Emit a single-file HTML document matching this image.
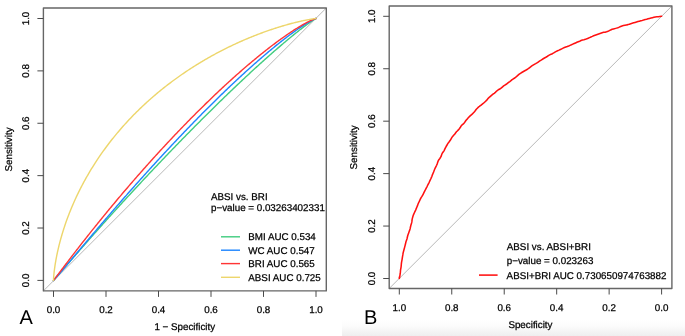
<!DOCTYPE html>
<html><head><meta charset="utf-8"><title>ROC curves</title>
<style>
html,body{margin:0;padding:0;background:#fff;}
body{width:685px;height:336px;overflow:hidden;font-family:"Liberation Sans",sans-serif;}
svg{display:block;text-rendering:geometricPrecision;will-change:transform;font-family:"Liberation Sans",sans-serif;}
svg text{font-family:"Liberation Sans",sans-serif;}
</style></head><body>
<svg width="685" height="336" viewBox="0 0 685 336">
<defs><linearGradient id="bg" x1="0" y1="0" x2="0" y2="1"><stop offset="0" stop-color="#ffffff"/><stop offset="0.4" stop-color="#fcfcfc"/><stop offset="1" stop-color="#eeeeee"/></linearGradient></defs>
<rect x="0" y="0" width="685" height="336" fill="#ffffff"/>
<rect x="342" y="319" width="343" height="17" fill="url(#bg)"/>
<g fill="none" stroke-linecap="round" stroke-linejoin="round">
<line x1="43.40" y1="290.90" x2="326.30" y2="8.00" stroke="#b8b8b8" stroke-width="1"/>
<path d="M53.50,280.40 L53.91,279.95 L54.31,279.48 L54.73,279.00 L55.14,278.53 L55.55,278.05 L55.98,277.56 L56.41,277.06 L56.82,276.59 L57.27,276.06 L57.67,275.59 L58.11,275.09 L58.58,274.53 L59.10,273.93 L59.51,273.45 L59.96,272.94 L60.42,272.39 L60.92,271.82 L61.45,271.21 L62.00,270.56 L62.59,269.88 L63.00,269.41 L63.42,268.91 L63.86,268.40 L64.32,267.88 L64.79,267.33 L65.28,266.76 L65.79,266.18 L66.31,265.57 L66.85,264.95 L67.41,264.30 L67.98,263.64 L68.58,262.95 L69.19,262.24 L69.83,261.51 L70.48,260.76 L71.16,259.98 L71.85,259.18 L72.57,258.36 L73.30,257.51 L74.06,256.64 L74.84,255.75 L75.24,255.29 L75.64,254.83 L76.05,254.36 L76.47,253.89 L76.89,253.41 L77.31,252.92 L77.75,252.42 L78.18,251.92 L78.63,251.42 L79.08,250.90 L79.53,250.38 L79.99,249.86 L80.46,249.33 L80.93,248.79 L81.41,248.24 L81.90,247.69 L82.39,247.13 L82.89,246.56 L83.39,245.99 L83.90,245.41 L84.42,244.83 L84.94,244.24 L85.47,243.64 L86.00,243.03 L86.54,242.42 L87.09,241.80 L87.64,241.17 L88.20,240.54 L88.76,239.90 L89.34,239.26 L89.91,238.61 L90.50,237.95 L91.09,237.28 L91.69,236.61 L92.29,235.93 L92.90,235.24 L93.52,234.55 L94.14,233.85 L94.77,233.14 L95.40,232.43 L96.04,231.71 L96.69,230.98 L97.35,230.25 L98.01,229.51 L98.67,228.77 L99.35,228.01 L100.03,227.25 L100.71,226.49 L101.40,225.71 L102.10,224.94 L102.81,224.15 L103.52,223.36 L104.24,222.56 L104.96,221.76 L105.69,220.95 L106.43,220.13 L107.17,219.31 L107.92,218.48 L108.67,217.64 L109.43,216.80 L110.20,215.95 L110.97,215.10 L111.75,214.24 L112.54,213.37 L113.33,212.50 L114.12,211.62 L114.93,210.74 L115.73,209.85 L116.55,208.95 L117.37,208.05 L118.19,207.15 L119.03,206.24 L119.86,205.32 L120.71,204.40 L121.55,203.47 L122.41,202.54 L123.27,201.60 L124.13,200.66 L125.00,199.71 L125.88,198.76 L126.76,197.80 L127.64,196.84 L128.53,195.87 L129.43,194.90 L130.33,193.93 L131.24,192.95 L132.15,191.96 L133.06,190.97 L133.98,189.98 L134.91,188.98 L135.84,187.98 L136.77,186.98 L137.71,185.97 L138.65,184.95 L139.60,183.94 L140.55,182.92 L141.51,181.89 L142.47,180.87 L143.43,179.84 L144.40,178.81 L145.37,177.77 L146.34,176.73 L147.32,175.69 L148.30,174.64 L149.29,173.60 L150.28,172.55 L151.27,171.50 L152.27,170.44 L153.27,169.38 L154.27,168.33 L155.27,167.27 L156.28,166.20 L157.29,165.14 L158.31,164.07 L159.32,163.01 L160.34,161.94 L161.36,160.87 L162.38,159.80 L163.41,158.72 L164.44,157.65 L165.47,156.57 L166.50,155.50 L167.53,154.42 L168.57,153.35 L169.60,152.27 L170.64,151.19 L171.68,150.12 L172.72,149.04 L173.76,147.96 L174.81,146.89 L175.85,145.81 L176.90,144.73 L177.94,143.66 L178.99,142.58 L180.03,141.51 L181.08,140.43 L182.13,139.36 L183.18,138.29 L184.23,137.22 L185.27,136.15 L186.32,135.08 L187.37,134.01 L188.42,132.95 L189.47,131.89 L190.51,130.83 L191.56,129.77 L192.60,128.71 L193.65,127.66 L194.69,126.60 L195.74,125.55 L196.78,124.50 L197.82,123.46 L198.86,122.42 L199.90,121.38 L200.93,120.34 L201.97,119.31 L203.00,118.28 L204.03,117.25 L205.06,116.23 L206.09,115.20 L207.12,114.19 L208.14,113.17 L209.16,112.16 L210.18,111.16 L211.19,110.16 L212.21,109.16 L213.22,108.16 L214.23,107.17 L215.23,106.19 L216.23,105.21 L217.23,104.23 L218.23,103.26 L219.22,102.29 L220.21,101.33 L221.20,100.37 L222.18,99.41 L223.16,98.47 L224.13,97.52 L225.10,96.58 L226.07,95.65 L227.03,94.72 L227.99,93.80 L228.95,92.88 L229.90,91.97 L230.85,91.06 L231.79,90.16 L232.73,89.26 L233.66,88.37 L234.59,87.49 L235.52,86.61 L236.44,85.74 L237.35,84.87 L238.26,84.01 L239.17,83.15 L240.07,82.30 L240.97,81.46 L241.86,80.62 L242.74,79.79 L243.62,78.97 L244.50,78.15 L245.37,77.34 L246.23,76.53 L247.09,75.73 L247.95,74.94 L248.79,74.15 L249.64,73.37 L250.47,72.60 L251.31,71.83 L252.13,71.07 L252.95,70.31 L253.77,69.57 L254.57,68.82 L255.38,68.09 L256.17,67.36 L256.96,66.64 L257.75,65.93 L258.53,65.22 L259.30,64.52 L260.07,63.82 L260.83,63.14 L261.58,62.45 L262.33,61.78 L263.07,61.11 L263.81,60.45 L264.54,59.80 L265.26,59.15 L265.98,58.51 L266.69,57.88 L267.40,57.25 L268.10,56.63 L268.79,56.01 L269.47,55.41 L270.15,54.81 L270.83,54.21 L271.49,53.63 L272.15,53.05 L272.81,52.47 L273.46,51.90 L274.10,51.34 L274.73,50.79 L275.36,50.24 L275.98,49.70 L276.60,49.17 L277.21,48.64 L277.81,48.12 L278.41,47.60 L279.00,47.10 L279.59,46.59 L280.16,46.10 L280.74,45.61 L281.30,45.13 L281.86,44.65 L282.41,44.18 L282.96,43.72 L283.50,43.26 L284.03,42.81 L284.56,42.36 L285.08,41.92 L285.60,41.49 L286.11,41.06 L286.61,40.64 L287.11,40.22 L287.60,39.81 L288.09,39.41 L288.57,39.01 L289.04,38.62 L289.51,38.23 L290.42,37.48 L291.32,36.74 L292.19,36.03 L293.03,35.34 L293.86,34.67 L294.66,34.03 L295.44,33.40 L296.20,32.79 L296.93,32.21 L297.65,31.64 L298.34,31.09 L299.02,30.56 L299.67,30.05 L300.31,29.55 L300.92,29.07 L301.52,28.61 L302.09,28.17 L302.65,27.74 L303.19,27.33 L303.71,26.93 L304.22,26.55 L304.71,26.18 L305.41,25.66 L306.08,25.16 L306.71,24.70 L307.31,24.26 L307.87,23.85 L308.41,23.46 L308.91,23.10 L309.54,22.65 L310.13,22.24 L310.66,21.86 L311.16,21.52 L311.72,21.14 L312.23,20.80 L312.77,20.44 L313.31,20.08 L313.83,19.75 L314.36,19.42 L314.90,19.09 L315.44,18.78 L315.97,18.51 L316.00,18.50" stroke="#43CD80" stroke-width="1.42"/>
<path d="M53.50,280.40 L53.93,279.98 L54.36,279.52 L54.81,279.04 L55.24,278.56 L55.67,278.08 L56.12,277.57 L56.57,277.06 L56.99,276.57 L57.47,276.03 L57.88,275.54 L58.34,275.01 L58.84,274.44 L59.23,273.97 L59.66,273.48 L60.11,272.95 L60.59,272.39 L61.09,271.80 L61.63,271.17 L62.19,270.50 L62.59,270.03 L63.00,269.55 L63.42,269.04 L63.86,268.52 L64.32,267.98 L64.79,267.42 L65.28,266.84 L65.79,266.24 L66.31,265.62 L66.85,264.98 L67.41,264.32 L67.98,263.63 L68.58,262.92 L69.19,262.19 L69.83,261.44 L70.48,260.66 L71.16,259.86 L71.85,259.03 L72.57,258.18 L73.30,257.30 L74.06,256.40 L74.45,255.94 L74.84,255.47 L75.24,254.99 L75.64,254.51 L76.05,254.03 L76.47,253.53 L76.89,253.03 L77.31,252.52 L77.75,252.01 L78.18,251.49 L78.63,250.96 L79.08,250.43 L79.53,249.88 L79.99,249.34 L80.46,248.78 L80.93,248.22 L81.41,247.65 L81.90,247.07 L82.39,246.49 L82.89,245.90 L83.39,245.30 L83.90,244.70 L84.42,244.09 L84.94,243.47 L85.47,242.84 L86.00,242.21 L86.54,241.57 L87.09,240.92 L87.64,240.27 L88.20,239.61 L88.76,238.94 L89.34,238.26 L89.91,237.58 L90.50,236.89 L91.09,236.19 L91.69,235.49 L92.29,234.78 L92.90,234.06 L93.52,233.33 L94.14,232.60 L94.77,231.86 L95.40,231.11 L96.04,230.36 L96.69,229.60 L97.35,228.83 L98.01,228.06 L98.67,227.27 L99.35,226.48 L100.03,225.69 L100.71,224.89 L101.40,224.08 L102.10,223.26 L102.81,222.44 L103.52,221.61 L104.24,220.77 L104.96,219.93 L105.69,219.08 L106.43,218.22 L107.17,217.36 L107.92,216.49 L108.67,215.61 L109.43,214.73 L110.20,213.84 L110.97,212.95 L111.75,212.05 L112.54,211.14 L113.33,210.23 L114.12,209.31 L114.93,208.38 L115.73,207.45 L116.55,206.52 L117.37,205.57 L118.19,204.62 L119.03,203.67 L119.86,202.71 L120.71,201.75 L121.55,200.78 L122.41,199.80 L123.27,198.82 L124.13,197.83 L125.00,196.84 L125.88,195.85 L126.76,194.85 L127.64,193.84 L128.53,192.83 L129.43,191.82 L130.33,190.80 L131.24,189.77 L132.15,188.74 L133.06,187.71 L133.98,186.68 L134.91,185.63 L135.84,184.59 L136.77,183.54 L137.71,182.49 L138.65,181.44 L139.60,180.38 L140.55,179.31 L141.51,178.25 L142.47,177.18 L143.43,176.11 L144.40,175.03 L145.37,173.95 L146.34,172.87 L147.32,171.79 L148.30,170.71 L149.29,169.62 L150.28,168.53 L151.27,167.44 L152.27,166.34 L153.27,165.25 L154.27,164.15 L155.27,163.05 L156.28,161.95 L157.29,160.85 L158.31,159.74 L159.32,158.64 L160.34,157.53 L161.36,156.42 L162.38,155.32 L163.41,154.21 L164.44,153.10 L165.47,151.99 L166.50,150.88 L167.53,149.77 L168.57,148.66 L169.60,147.55 L170.64,146.44 L171.68,145.33 L172.72,144.22 L173.76,143.12 L174.81,142.01 L175.85,140.90 L176.90,139.80 L177.94,138.69 L178.99,137.59 L180.03,136.49 L181.08,135.39 L182.13,134.29 L183.18,133.19 L184.23,132.10 L185.27,131.00 L186.32,129.91 L187.37,128.82 L188.42,127.74 L189.47,126.65 L190.51,125.57 L191.56,124.49 L192.60,123.41 L193.65,122.34 L194.69,121.27 L195.74,120.20 L196.78,119.14 L197.82,118.08 L198.86,117.02 L199.90,115.97 L200.93,114.92 L201.97,113.87 L203.00,112.83 L204.03,111.79 L205.06,110.75 L206.09,109.72 L207.12,108.70 L208.14,107.67 L209.16,106.66 L210.18,105.64 L211.19,104.64 L212.21,103.63 L213.22,102.63 L214.23,101.64 L215.23,100.65 L216.23,99.67 L217.23,98.69 L218.23,97.71 L219.22,96.75 L220.21,95.78 L221.20,94.83 L222.18,93.88 L223.16,92.93 L224.13,91.99 L225.10,91.05 L226.07,90.13 L227.03,89.20 L227.99,88.29 L228.95,87.38 L229.90,86.47 L230.85,85.57 L231.79,84.68 L232.73,83.80 L233.66,82.92 L234.59,82.04 L235.52,81.18 L236.44,80.32 L237.35,79.46 L238.26,78.62 L239.17,77.78 L240.07,76.94 L240.97,76.12 L241.86,75.29 L242.74,74.48 L243.62,73.67 L244.50,72.88 L245.37,72.08 L246.23,71.30 L247.09,70.52 L247.95,69.75 L248.79,68.98 L249.64,68.22 L250.47,67.47 L251.31,66.73 L252.13,65.99 L252.95,65.26 L253.77,64.54 L254.57,63.82 L255.38,63.11 L256.17,62.41 L256.96,61.72 L257.75,61.03 L258.53,60.35 L259.30,59.68 L260.07,59.01 L260.83,58.36 L261.58,57.70 L262.33,57.06 L263.07,56.42 L263.81,55.79 L264.54,55.17 L265.26,54.56 L265.98,53.95 L266.69,53.35 L267.40,52.75 L268.10,52.16 L268.79,51.58 L269.47,51.01 L270.15,50.44 L270.83,49.88 L271.49,49.33 L272.15,48.79 L272.81,48.25 L273.46,47.72 L274.10,47.19 L274.73,46.67 L275.36,46.16 L275.98,45.66 L276.60,45.16 L277.21,44.67 L277.81,44.18 L278.41,43.71 L279.00,43.23 L279.59,42.77 L280.16,42.31 L280.74,41.86 L281.30,41.41 L281.86,40.97 L282.41,40.54 L282.96,40.12 L283.50,39.70 L284.03,39.28 L284.56,38.87 L285.08,38.47 L285.60,38.08 L286.11,37.69 L286.61,37.30 L287.11,36.92 L287.60,36.55 L288.09,36.19 L289.04,35.47 L289.97,34.78 L290.87,34.11 L291.75,33.46 L292.61,32.83 L293.45,32.23 L294.26,31.64 L295.05,31.08 L295.82,30.53 L296.57,30.00 L297.29,29.50 L298.00,29.01 L298.68,28.53 L299.35,28.08 L299.99,27.64 L300.62,27.22 L301.22,26.82 L301.81,26.43 L302.37,26.05 L302.92,25.70 L303.46,25.35 L303.97,25.02 L304.71,24.55 L305.41,24.11 L306.08,23.69 L306.71,23.30 L307.31,22.94 L307.87,22.60 L308.41,22.29 L309.08,21.90 L309.69,21.54 L310.27,21.22 L310.79,20.93 L311.39,20.60 L311.93,20.31 L312.51,20.02 L313.09,19.72 L313.65,19.45 L314.21,19.19 L314.77,18.95 L315.32,18.72 L315.89,18.53 L316.00,18.50" stroke="#1E85FF" stroke-width="1.42"/>
<path d="M53.50,280.40 L53.89,279.93 L54.29,279.43 L54.66,278.94 L55.05,278.44 L55.44,277.93 L55.85,277.39 L56.26,276.85 L56.65,276.33 L57.08,275.76 L57.47,275.25 L57.88,274.70 L58.34,274.09 L58.71,273.60 L59.10,273.08 L59.51,272.53 L59.96,271.95 L60.42,271.33 L60.92,270.67 L61.45,269.97 L61.81,269.48 L62.19,268.98 L62.59,268.46 L63.00,267.91 L63.42,267.35 L63.86,266.77 L64.32,266.17 L64.79,265.54 L65.28,264.90 L65.79,264.23 L66.31,263.54 L66.85,262.83 L67.41,262.10 L67.98,261.34 L68.58,260.56 L69.19,259.75 L69.83,258.92 L70.48,258.07 L71.16,257.18 L71.85,256.28 L72.57,255.35 L72.93,254.87 L73.30,254.39 L73.68,253.90 L74.06,253.40 L74.45,252.90 L74.84,252.39 L75.24,251.88 L75.64,251.35 L76.05,250.82 L76.47,250.29 L76.89,249.74 L77.31,249.19 L77.75,248.64 L78.18,248.07 L78.63,247.50 L79.08,246.92 L79.53,246.34 L79.99,245.75 L80.46,245.15 L80.93,244.54 L81.41,243.93 L81.90,243.31 L82.39,242.68 L82.89,242.05 L83.39,241.40 L83.90,240.75 L84.42,240.10 L84.94,239.44 L85.47,238.77 L86.00,238.09 L86.54,237.40 L87.09,236.71 L87.64,236.01 L88.20,235.31 L88.76,234.59 L89.34,233.87 L89.91,233.15 L90.50,232.41 L91.09,231.67 L91.69,230.92 L92.29,230.16 L92.90,229.40 L93.52,228.63 L94.14,227.86 L94.77,227.07 L95.40,226.28 L96.04,225.48 L96.69,224.68 L97.35,223.87 L98.01,223.05 L98.67,222.23 L99.35,221.39 L100.03,220.56 L100.71,219.71 L101.40,218.86 L102.10,218.00 L102.81,217.14 L103.52,216.27 L104.24,215.39 L104.96,214.50 L105.69,213.61 L106.43,212.72 L107.17,211.82 L107.92,210.91 L108.67,209.99 L109.43,209.07 L110.20,208.15 L110.97,207.21 L111.75,206.27 L112.54,205.33 L113.33,204.38 L114.12,203.43 L114.93,202.46 L115.73,201.50 L116.55,200.53 L117.37,199.55 L118.19,198.57 L119.03,197.58 L119.86,196.59 L120.71,195.59 L121.55,194.59 L122.41,193.58 L123.27,192.57 L124.13,191.55 L125.00,190.53 L125.88,189.51 L126.76,188.48 L127.64,187.45 L128.53,186.41 L129.43,185.37 L130.33,184.32 L131.24,183.27 L132.15,182.22 L133.06,181.16 L133.98,180.10 L134.91,179.04 L135.84,177.97 L136.77,176.90 L137.71,175.83 L138.65,174.76 L139.60,173.68 L140.55,172.60 L141.51,171.51 L142.47,170.43 L143.43,169.34 L144.40,168.25 L145.37,167.16 L146.34,166.06 L147.32,164.96 L148.30,163.87 L149.29,162.77 L150.28,161.67 L151.27,160.56 L152.27,159.46 L153.27,158.35 L154.27,157.25 L155.27,156.14 L156.28,155.03 L157.29,153.92 L158.31,152.82 L159.32,151.71 L160.34,150.60 L161.36,149.49 L162.38,148.38 L163.41,147.27 L164.44,146.16 L165.47,145.05 L166.50,143.94 L167.53,142.83 L168.57,141.73 L169.60,140.62 L170.64,139.51 L171.68,138.41 L172.72,137.31 L173.76,136.21 L174.81,135.11 L175.85,134.01 L176.90,132.91 L177.94,131.82 L178.99,130.72 L180.03,129.63 L181.08,128.54 L182.13,127.46 L183.18,126.37 L184.23,125.29 L185.27,124.21 L186.32,123.14 L187.37,122.07 L188.42,121.00 L189.47,119.93 L190.51,118.87 L191.56,117.81 L192.60,116.75 L193.65,115.70 L194.69,114.65 L195.74,113.60 L196.78,112.56 L197.82,111.52 L198.86,110.49 L199.90,109.46 L200.93,108.43 L201.97,107.41 L203.00,106.40 L204.03,105.38 L205.06,104.38 L206.09,103.38 L207.12,102.38 L208.14,101.39 L209.16,100.40 L210.18,99.42 L211.19,98.44 L212.21,97.47 L213.22,96.50 L214.23,95.54 L215.23,94.58 L216.23,93.63 L217.23,92.69 L218.23,91.75 L219.22,90.82 L220.21,89.89 L221.20,88.97 L222.18,88.05 L223.16,87.14 L224.13,86.24 L225.10,85.34 L226.07,84.45 L227.03,83.57 L227.99,82.69 L228.95,81.82 L229.90,80.96 L230.85,80.10 L231.79,79.25 L232.73,78.40 L233.66,77.56 L234.59,76.73 L235.52,75.90 L236.44,75.09 L237.35,74.27 L238.26,73.47 L239.17,72.67 L240.07,71.88 L240.97,71.10 L241.86,70.32 L242.74,69.55 L243.62,68.79 L244.50,68.03 L245.37,67.28 L246.23,66.54 L247.09,65.80 L247.95,65.08 L248.79,64.35 L249.64,63.64 L250.47,62.93 L251.31,62.23 L252.13,61.54 L252.95,60.86 L253.77,60.18 L254.57,59.51 L255.38,58.85 L256.17,58.19 L256.96,57.54 L257.75,56.90 L258.53,56.26 L259.30,55.63 L260.07,55.01 L260.83,54.40 L261.58,53.79 L262.33,53.19 L263.07,52.60 L263.81,52.01 L264.54,51.44 L265.26,50.86 L265.98,50.30 L266.69,49.74 L267.40,49.19 L268.10,48.65 L268.79,48.11 L269.47,47.58 L270.15,47.06 L270.83,46.54 L271.49,46.03 L272.15,45.53 L272.81,45.03 L273.46,44.54 L274.10,44.06 L274.73,43.58 L275.36,43.11 L275.98,42.65 L276.60,42.19 L277.21,41.74 L277.81,41.30 L278.41,40.86 L279.00,40.43 L279.59,40.01 L280.16,39.59 L280.74,39.18 L281.30,38.77 L281.86,38.37 L282.41,37.98 L282.96,37.59 L283.50,37.21 L284.03,36.83 L284.56,36.46 L285.08,36.09 L285.60,35.73 L286.11,35.38 L286.61,35.03 L287.11,34.69 L288.09,34.02 L289.04,33.38 L289.97,32.75 L290.87,32.15 L291.75,31.57 L292.61,31.01 L293.45,30.46 L294.26,29.94 L295.05,29.43 L295.82,28.95 L296.57,28.48 L297.29,28.02 L298.00,27.59 L298.68,27.17 L299.35,26.77 L299.99,26.38 L300.62,26.01 L301.22,25.65 L301.81,25.31 L302.37,24.98 L302.92,24.66 L303.46,24.36 L304.22,23.93 L304.95,23.53 L305.64,23.15 L306.29,22.80 L306.91,22.47 L307.50,22.16 L308.05,21.87 L308.75,21.52 L309.39,21.20 L309.99,20.91 L310.53,20.65 L311.16,20.36 L311.72,20.10 L312.32,19.83 L312.93,19.57 L313.52,19.33 L314.11,19.10 L314.69,18.89 L315.28,18.69 L315.86,18.53 L316.00,18.50" stroke="#FF3535" stroke-width="1.42"/>
<path d="M53.50,280.40 L53.52,279.78 L53.54,279.17 L53.57,278.56 L53.61,277.95 L53.65,277.33 L53.70,276.66 L53.76,275.98 L53.81,275.32 L53.87,274.70 L53.93,274.02 L54.01,273.27 L54.08,272.63 L54.15,271.93 L54.24,271.18 L54.34,270.38 L54.42,269.75 L54.50,269.08 L54.60,268.37 L54.70,267.64 L54.81,266.86 L54.92,266.05 L55.05,265.21 L55.19,264.32 L55.29,263.71 L55.39,263.07 L55.50,262.43 L55.61,261.76 L55.73,261.07 L55.85,260.36 L55.98,259.64 L56.12,258.89 L56.26,258.13 L56.41,257.34 L56.57,256.54 L56.73,255.71 L56.90,254.86 L57.08,253.99 L57.27,253.10 L57.47,252.19 L57.67,251.26 L57.88,250.30 L58.11,249.33 L58.34,248.33 L58.58,247.30 L58.84,246.26 L59.10,245.19 L59.37,244.10 L59.66,242.99 L59.96,241.85 L60.26,240.70 L60.42,240.11 L60.59,239.52 L60.75,238.92 L60.92,238.31 L61.09,237.70 L61.27,237.08 L61.45,236.46 L61.63,235.83 L61.81,235.20 L62.00,234.56 L62.19,233.92 L62.39,233.27 L62.59,232.61 L62.79,231.95 L63.00,231.28 L63.21,230.61 L63.42,229.93 L63.64,229.24 L63.86,228.55 L64.09,227.86 L64.32,227.16 L64.55,226.45 L64.79,225.74 L65.03,225.02 L65.28,224.30 L65.53,223.57 L65.79,222.83 L66.04,222.09 L66.31,221.35 L66.58,220.60 L66.85,219.84 L67.13,219.08 L67.41,218.31 L67.69,217.54 L67.98,216.77 L68.28,215.98 L68.58,215.20 L68.88,214.40 L69.19,213.61 L69.51,212.80 L69.83,212.00 L70.15,211.18 L70.48,210.37 L70.82,209.55 L71.16,208.72 L71.50,207.89 L71.85,207.05 L72.21,206.21 L72.57,205.37 L72.93,204.52 L73.30,203.66 L73.68,202.80 L74.06,201.94 L74.45,201.07 L74.84,200.20 L75.24,199.32 L75.64,198.44 L76.05,197.56 L76.47,196.67 L76.89,195.78 L77.31,194.88 L77.75,193.98 L78.18,193.08 L78.63,192.17 L79.08,191.26 L79.53,190.35 L79.99,189.43 L80.46,188.51 L80.93,187.58 L81.41,186.65 L81.90,185.72 L82.39,184.79 L82.89,183.85 L83.39,182.91 L83.90,181.96 L84.42,181.02 L84.94,180.07 L85.47,179.12 L86.00,178.16 L86.54,177.20 L87.09,176.24 L87.64,175.28 L88.20,174.32 L88.76,173.35 L89.34,172.38 L89.91,171.41 L90.50,170.44 L91.09,169.47 L91.69,168.49 L92.29,167.51 L92.90,166.53 L93.52,165.55 L94.14,164.57 L94.77,163.59 L95.40,162.60 L96.04,161.61 L96.69,160.63 L97.35,159.64 L98.01,158.65 L98.67,157.66 L99.35,156.67 L100.03,155.68 L100.71,154.68 L101.40,153.69 L102.10,152.70 L102.81,151.71 L103.52,150.71 L104.24,149.72 L104.96,148.73 L105.69,147.73 L106.43,146.74 L107.17,145.75 L107.92,144.75 L108.67,143.76 L109.43,142.77 L110.20,141.78 L110.97,140.79 L111.75,139.80 L112.54,138.81 L113.33,137.82 L114.12,136.83 L114.93,135.85 L115.73,134.86 L116.55,133.88 L117.37,132.90 L118.19,131.92 L119.03,130.94 L119.86,129.96 L120.71,128.99 L121.55,128.01 L122.41,127.04 L123.27,126.07 L124.13,125.10 L125.00,124.14 L125.88,123.18 L126.76,122.21 L127.64,121.26 L128.53,120.30 L129.43,119.35 L130.33,118.40 L131.24,117.45 L132.15,116.50 L133.06,115.56 L133.98,114.62 L134.91,113.68 L135.84,112.75 L136.77,111.82 L137.71,110.89 L138.65,109.97 L139.60,109.05 L140.55,108.13 L141.51,107.22 L142.47,106.31 L143.43,105.41 L144.40,104.50 L145.37,103.61 L146.34,102.71 L147.32,101.82 L148.30,100.93 L149.29,100.05 L150.28,99.17 L151.27,98.30 L152.27,97.43 L153.27,96.56 L154.27,95.70 L155.27,94.85 L156.28,93.99 L157.29,93.15 L158.31,92.30 L159.32,91.46 L160.34,90.63 L161.36,89.80 L162.38,88.98 L163.41,88.16 L164.44,87.34 L165.47,86.53 L166.50,85.73 L167.53,84.93 L168.57,84.13 L169.60,83.34 L170.64,82.56 L171.68,81.78 L172.72,81.00 L173.76,80.23 L174.81,79.47 L175.85,78.71 L176.90,77.96 L177.94,77.21 L178.99,76.47 L180.03,75.73 L181.08,75.00 L182.13,74.27 L183.18,73.55 L184.23,72.84 L185.27,72.13 L186.32,71.42 L187.37,70.72 L188.42,70.03 L189.47,69.34 L190.51,68.66 L191.56,67.98 L192.60,67.31 L193.65,66.65 L194.69,65.99 L195.74,65.33 L196.78,64.69 L197.82,64.04 L198.86,63.41 L199.90,62.78 L200.93,62.15 L201.97,61.53 L203.00,60.92 L204.03,60.31 L205.06,59.71 L206.09,59.11 L207.12,58.52 L208.14,57.94 L209.16,57.36 L210.18,56.78 L211.19,56.22 L212.21,55.65 L213.22,55.10 L214.23,54.55 L215.23,54.00 L216.23,53.46 L217.23,52.93 L218.23,52.40 L219.22,51.88 L220.21,51.36 L221.20,50.85 L222.18,50.34 L223.16,49.84 L224.13,49.35 L225.10,48.86 L226.07,48.38 L227.03,47.90 L227.99,47.43 L228.95,46.96 L229.90,46.50 L230.85,46.04 L231.79,45.59 L232.73,45.15 L233.66,44.71 L234.59,44.27 L235.52,43.84 L236.44,43.42 L237.35,43.00 L238.26,42.59 L239.17,42.18 L240.07,41.77 L240.97,41.38 L241.86,40.98 L242.74,40.59 L243.62,40.21 L244.50,39.83 L245.37,39.46 L246.23,39.09 L247.09,38.73 L247.95,38.37 L248.79,38.02 L249.64,37.67 L250.47,37.33 L251.31,36.99 L252.13,36.65 L252.95,36.32 L253.77,36.00 L254.57,35.68 L255.38,35.36 L256.17,35.05 L256.96,34.75 L257.75,34.44 L258.53,34.15 L259.30,33.85 L260.07,33.56 L260.83,33.28 L261.58,33.00 L262.33,32.72 L263.07,32.45 L263.81,32.18 L264.54,31.92 L265.26,31.66 L265.98,31.40 L266.69,31.15 L267.40,30.90 L268.10,30.66 L268.79,30.42 L269.47,30.18 L270.15,29.95 L270.83,29.72 L271.49,29.49 L272.15,29.27 L272.81,29.06 L273.46,28.84 L274.10,28.63 L274.73,28.42 L275.36,28.22 L275.98,28.02 L276.60,27.82 L277.21,27.63 L277.81,27.44 L278.41,27.25 L279.00,27.07 L279.59,26.89 L280.16,26.71 L281.30,26.37 L282.41,26.03 L283.50,25.71 L284.56,25.40 L285.60,25.10 L286.61,24.81 L287.60,24.54 L288.57,24.27 L289.51,24.01 L290.42,23.77 L291.32,23.53 L292.19,23.30 L293.03,23.08 L293.86,22.87 L294.66,22.67 L295.44,22.47 L296.20,22.29 L296.93,22.11 L297.65,21.94 L298.34,21.77 L299.02,21.61 L299.67,21.46 L300.31,21.32 L300.92,21.18 L301.52,21.05 L302.37,20.86 L303.19,20.68 L303.97,20.52 L304.71,20.37 L305.41,20.22 L306.08,20.09 L306.71,19.97 L307.31,19.85 L308.05,19.71 L308.75,19.58 L309.39,19.47 L309.99,19.36 L310.66,19.25 L311.28,19.14 L311.93,19.04 L312.60,18.94 L313.24,18.84 L313.89,18.75 L314.49,18.67 L315.11,18.59 L315.71,18.53 L316.00,18.50" stroke="#EDD66C" stroke-width="1.42"/>
</g>
<path d="M43.40,8.00H326.30V290.90H43.40Z" fill="none" stroke="#666666" stroke-width="1.40" stroke-linejoin="round"/>
<path d="M43.40,280.40H37.40 M53.50,290.90V296.90 M43.40,228.02H37.40 M106.00,290.90V296.90 M43.40,175.64H37.40 M158.50,290.90V296.90 M43.40,123.26H37.40 M211.00,290.90V296.90 M43.40,70.88H37.40 M263.50,290.90V296.90 M43.40,18.50H37.40 M316.00,290.90V296.90" stroke="#4a4a4a" stroke-width="1" fill="none"/>
<line x1="221" y1="236.8" x2="240" y2="236.8" stroke="#43CD80" stroke-width="1.42"/>
<line x1="221" y1="250.2" x2="240" y2="250.2" stroke="#1E85FF" stroke-width="1.42"/>
<line x1="221" y1="263.6" x2="240" y2="263.6" stroke="#FF3535" stroke-width="1.42"/>
<line x1="221" y1="277.3" x2="240" y2="277.3" stroke="#EDD66C" stroke-width="1.42"/>
<g font-size="9.80" fill="#000" stroke="#000" stroke-width="0.25">
<text transform="translate(29.00,280.40) rotate(-90)" text-anchor="middle">0.0</text>
<text transform="translate(29.00,228.02) rotate(-90)" text-anchor="middle">0.2</text>
<text transform="translate(29.00,175.64) rotate(-90)" text-anchor="middle">0.4</text>
<text transform="translate(29.00,123.26) rotate(-90)" text-anchor="middle">0.6</text>
<text transform="translate(29.00,70.88) rotate(-90)" text-anchor="middle">0.8</text>
<text transform="translate(29.00,18.50) rotate(-90)" text-anchor="middle">1.0</text>
<text x="53.50" y="312.60" text-anchor="middle">0.0</text>
<text x="106.00" y="312.60" text-anchor="middle">0.2</text>
<text x="158.50" y="312.60" text-anchor="middle">0.4</text>
<text x="211.00" y="312.60" text-anchor="middle">0.6</text>
<text x="263.50" y="312.60" text-anchor="middle">0.8</text>
<text x="316.00" y="312.60" text-anchor="middle">1.0</text>
<text x="184.75" y="330.4" text-anchor="middle">1 − Specificity</text>
<text transform="translate(11.6,149.5) rotate(-90)" text-anchor="middle">Sensitivity</text>
<text x="211" y="199.9">ABSI vs. BRI</text>
<text x="211" y="211.3">p−value = 0.03263402331</text>
<text x="248.3" y="240.2">BMI AUC 0.534</text>
<text x="248.3" y="253.6">WC AUC 0.547</text>
<text x="248.3" y="267.0">BRI AUC 0.565</text>
<text x="248.3" y="280.5">ABSI AUC 0.725</text>
</g>
<text x="19.4" y="323.5" font-size="20" fill="#000">A</text>
<g fill="none" stroke-linecap="round" stroke-linejoin="round">
<line x1="389.20" y1="288.50" x2="671.90" y2="6.00" stroke="#b8b8b8" stroke-width="1"/>
<path d="M399.30,278.50 L399.34,277.00 L399.37,278.42 L399.71,276.94 L399.92,275.46 L400.17,273.98 L400.37,272.50 L400.46,271.00 L400.61,269.50 L400.89,268.03 L401.14,266.54 L401.27,265.05 L401.38,263.55 L401.57,262.07 L401.87,260.59 L402.14,259.12 L402.35,257.64 L402.60,256.16 L402.86,254.68 L403.08,253.18 L403.43,251.72 L403.83,250.28 L404.23,248.83 L404.61,247.39 L404.98,245.93 L405.34,244.48 L405.68,243.02 L406.02,241.56 L406.52,240.14 L407.02,238.71 L407.35,237.25 L407.70,235.79 L408.18,234.37 L408.68,232.95 L409.17,231.54 L409.70,230.13 L410.14,228.70 L410.43,227.21 L410.75,225.75 L411.19,224.31 L411.64,222.88 L411.91,221.40 L412.06,219.89 L412.36,218.41 L412.76,216.96 L413.19,215.52 L413.75,214.12 L414.39,212.75 L415.01,211.38 L415.68,210.04 L416.24,208.65 L416.82,207.27 L417.39,205.89 L417.90,204.47 L418.45,203.08 L419.12,201.73 L419.76,200.37 L420.37,199.00 L421.12,197.70 L421.94,196.44 L422.69,195.14 L423.36,193.80 L424.03,192.45 L424.70,191.11 L425.38,189.77 L426.09,188.45 L426.79,187.12 L427.44,185.77 L428.11,184.43 L428.81,183.10 L429.44,181.74 L430.05,180.37 L430.73,179.02 L431.33,177.65 L431.94,176.28 L432.39,174.84 L432.97,173.45 L433.57,172.08 L434.09,170.67 L434.66,169.28 L435.29,167.92 L435.94,166.57 L436.62,165.23 L437.20,163.85 L437.65,162.40 L438.19,160.99 L438.91,159.68 L439.84,158.46 L440.66,157.19 L441.33,155.85 L441.74,154.38 L442.40,153.03 L443.32,151.82 L444.13,150.56 L444.79,149.21 L445.39,147.83 L446.12,146.52 L446.89,145.23 L447.65,143.93 L448.47,142.68 L449.37,141.48 L450.25,140.25 L451.04,138.98 L451.80,137.67 L452.64,136.43 L453.64,135.30 L454.65,134.18 L455.53,132.97 L456.46,131.79 L457.56,130.75 L458.57,129.64 L459.51,128.47 L460.38,127.25 L461.15,125.94 L462.16,124.83 L463.37,123.89 L464.35,122.76 L465.24,121.54 L466.09,120.29 L467.06,119.15 L468.04,118.01 L469.06,116.91 L470.16,115.88 L471.30,114.90 L472.42,113.90 L473.47,112.82 L474.47,111.70 L475.41,110.53 L476.31,109.30 L477.36,108.22 L478.43,107.18 L479.61,106.23 L480.82,105.33 L482.01,104.41 L483.19,103.48 L484.30,102.47 L485.40,101.46 L486.51,100.44 L487.47,99.27 L488.45,98.11 L489.52,97.06 L490.66,96.07 L491.80,95.10 L492.97,94.16 L494.20,93.29 L495.36,92.34 L496.43,91.28 L497.58,90.31 L498.82,89.46 L500.16,88.73 L501.41,87.90 L502.54,86.91 L503.65,85.89 L504.90,85.06 L506.20,84.29 L507.39,83.38 L508.59,82.48 L509.80,81.59 L510.98,80.68 L512.13,79.70 L513.37,78.86 L514.61,78.01 L515.81,77.11 L516.97,76.16 L518.09,75.15 L519.24,74.16 L520.46,73.30 L521.74,72.51 L523.04,71.75 L524.35,71.01 L525.67,70.29 L526.96,69.52 L528.20,68.67 L529.41,67.78 L530.61,66.87 L531.82,65.98 L533.06,65.15 L534.35,64.38 L535.67,63.65 L536.95,62.88 L538.20,62.04 L539.44,61.19 L540.70,60.39 L541.95,59.55 L543.21,58.73 L544.51,57.98 L545.83,57.26 L547.13,56.51 L548.38,55.68 L549.66,54.90 L551.04,54.28 L552.43,53.70 L553.72,52.94 L554.97,52.09 L556.28,51.35 L557.65,50.74 L559.04,50.15 L560.39,49.49 L561.74,48.85 L563.09,48.18 L564.43,47.52 L565.85,47.01 L567.29,46.56 L568.68,46.00 L570.05,45.40 L571.43,44.80 L572.79,44.17 L574.15,43.54 L575.52,42.93 L576.90,42.33 L578.28,41.74 L579.67,41.17 L581.04,40.57 L582.45,40.06 L583.94,39.76 L585.40,39.37 L586.80,38.85 L588.17,38.21 L589.54,37.60 L590.92,37.01 L592.30,36.41 L593.66,35.77 L595.07,35.26 L596.49,34.75 L597.90,34.25 L599.31,33.75 L600.73,33.25 L602.14,32.75 L603.58,32.31 L605.12,32.16 L606.58,31.80 L607.99,31.30 L609.36,30.67 L610.70,29.94 L612.07,29.31 L613.52,28.92 L614.98,28.57 L616.42,28.13 L617.84,27.66 L619.24,27.10 L620.60,26.44 L622.01,25.93 L623.44,25.49 L624.92,25.17 L626.41,24.89 L627.90,24.63 L629.33,24.18 L630.76,23.73 L632.19,23.29 L633.62,22.86 L635.06,22.43 L636.50,22.00 L637.93,21.56 L639.38,21.18 L640.82,20.78 L642.27,20.38 L643.70,19.92 L645.15,19.57 L646.62,19.26 L648.06,18.84 L649.50,18.43 L650.95,18.06 L652.41,17.67 L653.87,17.34 L655.34,17.05 L656.83,16.84 L658.32,16.66 L659.80,16.46 L661.30,16.31 L661.60,16.30" stroke="#FF1010" stroke-width="1.55"/>
</g>
<path d="M389.20,6.00H671.90V288.50H389.20Z" fill="none" stroke="#666666" stroke-width="1.40" stroke-linejoin="round"/>
<path d="M389.20,278.50H383.20 M661.60,288.50V294.50 M389.20,226.06H383.20 M609.14,288.50V294.50 M389.20,173.62H383.20 M556.68,288.50V294.50 M389.20,121.18H383.20 M504.22,288.50V294.50 M389.20,68.74H383.20 M451.76,288.50V294.50 M389.20,16.30H383.20 M399.30,288.50V294.50" stroke="#4a4a4a" stroke-width="1" fill="none"/>
<line x1="479" y1="275.1" x2="497.6" y2="275.1" stroke="#FF1010" stroke-width="1.55"/>
<g font-size="9.80" fill="#000" stroke="#000" stroke-width="0.25">
<text transform="translate(375.00,278.50) rotate(-90)" text-anchor="middle">0.0</text>
<text transform="translate(375.00,226.06) rotate(-90)" text-anchor="middle">0.2</text>
<text transform="translate(375.00,173.62) rotate(-90)" text-anchor="middle">0.4</text>
<text transform="translate(375.00,121.18) rotate(-90)" text-anchor="middle">0.6</text>
<text transform="translate(375.00,68.74) rotate(-90)" text-anchor="middle">0.8</text>
<text transform="translate(375.00,16.30) rotate(-90)" text-anchor="middle">1.0</text>
<text x="661.60" y="310.60" text-anchor="middle">0.0</text>
<text x="609.14" y="310.60" text-anchor="middle">0.2</text>
<text x="556.68" y="310.60" text-anchor="middle">0.4</text>
<text x="504.22" y="310.60" text-anchor="middle">0.6</text>
<text x="451.76" y="310.60" text-anchor="middle">0.8</text>
<text x="399.30" y="310.60" text-anchor="middle">1.0</text>
<text x="530.45" y="328.2" text-anchor="middle">Specificity</text>
<text transform="translate(357.3,147.4) rotate(-90)" text-anchor="middle">Sensitivity</text>
<text x="506.8" y="250.3">ABSI vs. ABSI+BRI</text>
<text x="506.8" y="263.5">p−value = 0.023263</text>
<text x="506.6" y="278.8">ABSI+BRI AUC 0.730650974763882</text>
</g>
<text x="363.9" y="323.8" font-size="20" fill="#000">B</text>
</svg>
</body></html>
